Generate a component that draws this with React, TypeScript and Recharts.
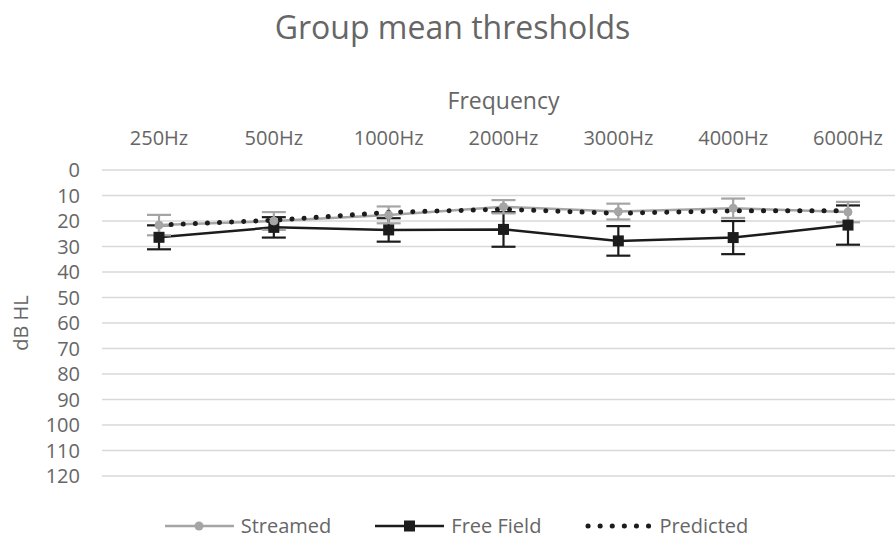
import {
    ComposedChart,
    Line,
    XAxis,
    YAxis,
    CartesianGrid,
    ErrorBar,
    Legend,
} from "recharts";

const frequencies = ["250Hz", "500Hz", "1000Hz", "2000Hz", "3000Hz", "4000Hz", "6000Hz"];
const streamed = [21.6, 20, 17.6, 14.4, 16.3, 15, 16.5];
const streamedErr = [4, 3.5, 3.3, 2.6, 3.1, 3.8, 4];
const freeField = [26.4, 22.5, 23.5, 23.3, 27.8, 26.5, 21.6];
const freeFieldErr = [4.7, 4, 4.6, 6.8, 5.8, 6.5, 7.7];
const predicted = [21.6, 19.7, 16.6, 15.4, 17, 16, 16];
const yTicks = [0, 10, 20, 30, 40, 50, 60, 70, 80, 90, 100, 110, 120];

const data = frequencies.map((f, i) => ({
    name: f,
    streamed: streamed[i],
    streamedErr: streamedErr[i],
    freeField: freeField[i],
    freeFieldErr: freeFieldErr[i],
    predicted: predicted[i],
}));

const FONT = "'Open Sans', sans-serif";
const TEXT = "#666666";
const GREY = "#a5a5a5";
const BLACK = "#1c1c1c";

const SquareDot = (props: any) => {
    const { cx, cy, index } = props;
    if (cx == null || cy == null) return null;
    return <rect key={"sq" + index} x={cx - 5.5} y={cy - 5.5} width={11} height={11} fill={BLACK} />;
};

const LegendContent = () => (
    <div
        style={{
            display: "flex",
            justifyContent: "center",
            alignItems: "center",
            paddingTop: 38,
            paddingLeft: 8,
            fontFamily: FONT,
            fontSize: 20,
            color: TEXT,
            lineHeight: "24px",
        }}
    >
        <svg width={69} height={12} style={{ marginRight: 7 }}>
            <line x1={0} y1={6} x2={69} y2={6} stroke={GREY} strokeWidth={2.5} />
            <circle cx={34} cy={6} r={4.5} fill={GREY} />
        </svg>
        <span style={{ marginRight: 44 }}>Streamed</span>
        <svg width={69} height={12} style={{ marginRight: 7 }}>
            <line x1={0} y1={6} x2={69} y2={6} stroke={BLACK} strokeWidth={2.5} />
            <rect x={29} y={0.5} width={11} height={11} fill={BLACK} />
        </svg>
        <span style={{ marginRight: 44 }}>Free Field</span>
        <svg width={66} height={12} style={{ marginRight: 8 }}>
            <line
                x1={3}
                y1={6}
                x2={64}
                y2={6}
                stroke={BLACK}
                strokeWidth={5}
                strokeLinecap="round"
                strokeDasharray="0.1 12"
            />
        </svg>
        <span>Predicted</span>
    </div>
);

export default function App() {
    return (
        <div
            style={{
                position: "absolute",
                left: 0,
                top: 0,
                width: 895,
                height: 538,
                overflow: "hidden",
                background: "#fff",
            }}
        >
            <div
                style={{
                    position: "absolute",
                    top: 5,
                    width: 905,
                    textAlign: "center",
                    fontFamily: FONT,
                    fontSize: 32,
                    color: TEXT,
                }}
            >
                Group mean thresholds
            </div>
            <ComposedChart
                width={910}
                height={538}
                data={data}
                margin={{ top: 0, right: 5, left: 0, bottom: 0 }}
            >
                <CartesianGrid vertical={false} stroke="#d9d9d9" strokeWidth={1.3} />
                <XAxis
                    dataKey="name"
                    orientation="top"
                    height={170}
                    padding={{ left: 57, right: 57 }}
                    axisLine={false}
                    tickLine={false}
                    tickSize={0}
                    tickMargin={25}
                    interval={0}
                    tick={{ fill: TEXT, fontSize: 20, fontFamily: FONT }}
                    label={{
                        value: "Frequency",
                        position: "insideBottom",
                        offset: 61,
                        fill: TEXT,
                        fontSize: 23,
                        fontFamily: FONT,
                    }}
                />
                <YAxis
                    domain={[0, 120]}
                    ticks={yTicks}
                    reversed
                    width={102}
                    axisLine={false}
                    tickLine={false}
                    tickSize={0}
                    tickMargin={22}
                    interval={0}
                    tick={{ fill: TEXT, fontSize: 20, fontFamily: FONT }}
                    label={{
                        content: () => (
                            <text
                                x={20}
                                y={323}
                                transform="rotate(-90 20 323)"
                                textAnchor="middle"
                                dominantBaseline="central"
                                fill={TEXT}
                                fontSize={20}
                                fontFamily={FONT}
                            >
                                dB HL
                            </text>
                        ),
                    }}
                />
                <Legend verticalAlign="bottom" height={62} content={<LegendContent />} />
                <Line
                    dataKey="freeField"
                    name="Free Field"
                    stroke={BLACK}
                    strokeWidth={2.5}
                    dot={<SquareDot />}
                    isAnimationActive={false}
                >
                    <ErrorBar dataKey="freeFieldErr" width={12} stroke={BLACK} strokeWidth={2.2} />
                </Line>
                <Line
                    dataKey="streamed"
                    name="Streamed"
                    stroke={GREY}
                    strokeWidth={2.5}
                    dot={{ r: 4, fill: GREY, stroke: GREY, strokeWidth: 1 }}
                    isAnimationActive={false}
                >
                    <ErrorBar dataKey="streamedErr" width={12} stroke={GREY} strokeWidth={2.2} />
                </Line>
                <Line
                    dataKey="predicted"
                    name="Predicted"
                    stroke={BLACK}
                    strokeWidth={5}
                    strokeLinecap="round"
                    strokeDasharray="0.1 12"
                    dot={false}
                    isAnimationActive={false}
                />
            </ComposedChart>
        </div>
    );
}
